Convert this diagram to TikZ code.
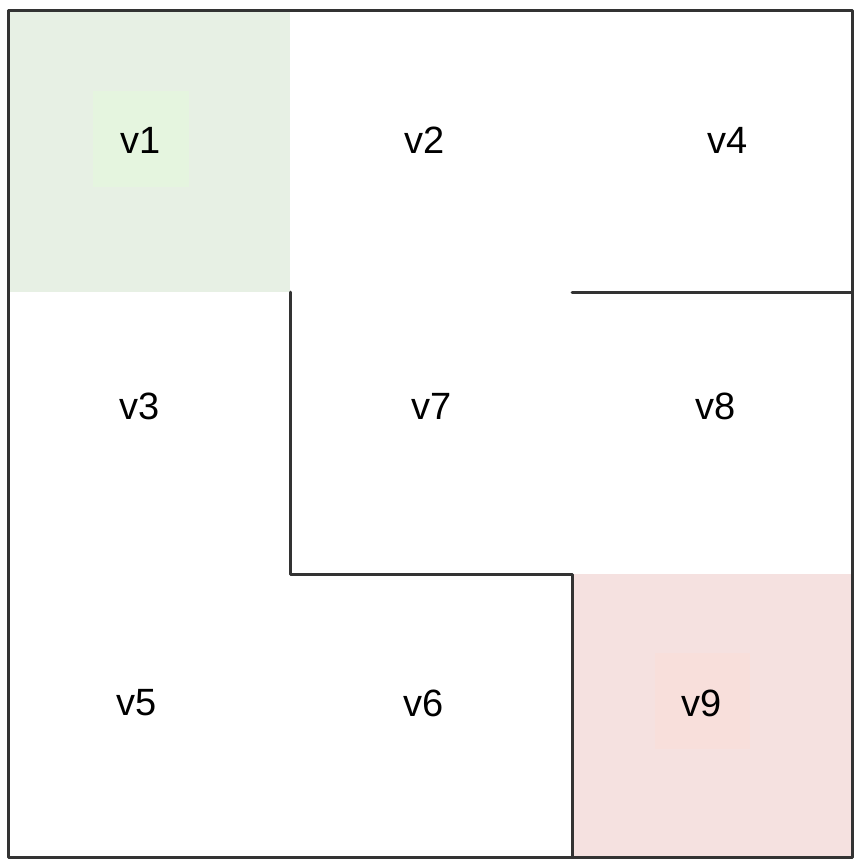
\documentclass[tikz,border=0pt]{standalone}
\usepackage{fontspec}
\setmainfont{Liberation Sans}
\definecolor{wallc}{HTML}{333333}
\definecolor{greencell}{HTML}{E7F0E4}
\definecolor{greeninner}{HTML}{E5F5DF}
\definecolor{redcell}{HTML}{F5E1E0}
\definecolor{redinner}{HTML}{F8DFDB}
\begin{document}
\begin{tikzpicture}[x=1pt,y=-1pt,
  wall/.style={draw=wallc,line width=3pt,line cap=round,line join=round},
  lbl/.style={font=\fontsize{38}{40}\selectfont,inner sep=0pt,text=black}]
\useasboundingbox (0,0) rectangle (860,868);
% coloured cells
\fill[greencell] (9,11) rectangle (290,292);
\fill[greeninner] (93,91) rectangle (189,187);
\fill[redcell] (572,574) rectangle (851,856);
\fill[redinner] (655,653) rectangle (750,749);
% walls
\draw[wall] (8,10) rectangle (852,857);
\draw[wall] (290,292) -- (290,574) -- (572,574) -- (572,857);
\draw[wall] (572,292) -- (852,292);
% labels
\node[lbl] (v1) at (141,140) {v1};
\node[lbl] (v2) at (425,140) {v2};
\node[lbl] (v4) at (728,140) {v4};
\node[lbl] (v3) at (140,406) {v3};
\node[lbl] (v7) at (432,406) {v7};
\node[lbl] (v8) at (716,406) {v8};
\node[lbl] (v5) at (137,703) {v5};
\node[lbl] (v6) at (424,703) {v6};
\node[lbl] (v9) at (702,703) {v9};
\end{tikzpicture}
\end{document}
